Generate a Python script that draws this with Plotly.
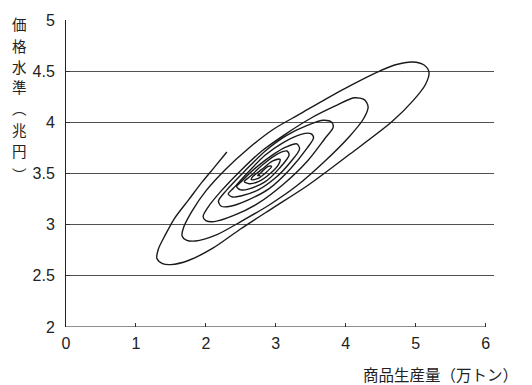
import plotly.graph_objects as go

# Trajectory of production (x, 10k tons) and price level (y, trillion yen)
prod = [
    2.30, 2.12, 1.95, 1.75, 1.55, 1.42, 1.32, 1.30, 1.38, 1.50,
    1.75, 2.10, 2.50, 2.95, 3.45, 4.06, 4.65, 4.96, 5.14, 5.19, 5.12, 4.96, 4.70, 4.45,
    4.10, 3.72, 3.34, 2.96, 2.60, 2.28, 2.00, 1.80, 1.68, 1.66, 1.72, 1.85,
    2.15, 2.50, 2.90, 3.30, 3.70, 4.05, 4.25, 4.32, 4.27, 4.12, 3.85, 3.50, 3.15, 2.80,
    2.50, 2.22, 2.03, 1.96, 2.00, 2.12,
    2.40, 2.75, 3.10, 3.45, 3.70, 3.82, 3.80, 3.68, 3.45, 3.15, 2.85, 2.55, 2.30, 2.18, 2.22, 2.35,
    2.60, 2.90, 3.20, 3.45, 3.54, 3.50, 3.35, 3.10, 2.85, 2.60, 2.40, 2.32, 2.38, 2.50,
    2.75, 3.00, 3.22, 3.34, 3.30, 3.15, 2.95, 2.72, 2.52, 2.44, 2.50, 2.62,
    2.85, 3.05, 3.19, 3.16, 3.02, 2.82, 2.63, 2.55, 2.62, 2.75,
    2.92, 3.04, 3.06, 2.95, 2.80, 2.67, 2.65, 2.74,
    2.86, 2.94, 2.89, 2.79, 2.74, 2.78,
]
price = [
    3.71, 3.56, 3.42, 3.24, 3.06, 2.90, 2.76, 2.67, 2.62, 2.61,
    2.65, 2.77, 2.96, 3.16, 3.38, 3.69, 4.00, 4.21, 4.37, 4.49, 4.56, 4.59, 4.56, 4.49,
    4.37, 4.23, 4.08, 3.93, 3.74, 3.54, 3.33, 3.13, 2.97, 2.89, 2.85, 2.84,
    2.90, 3.03, 3.19, 3.38, 3.62, 3.86, 4.03, 4.15, 4.22, 4.24, 4.16, 4.04, 3.89, 3.72,
    3.53, 3.33, 3.17, 3.08, 3.04, 3.03,
    3.09, 3.21, 3.39, 3.62, 3.84, 3.95, 4.00, 4.02, 3.97, 3.87, 3.72, 3.52, 3.34, 3.23, 3.18, 3.18,
    3.24, 3.35, 3.54, 3.75, 3.85, 3.89, 3.88, 3.80, 3.68, 3.51, 3.36, 3.30, 3.27, 3.28,
    3.34, 3.46, 3.62, 3.74, 3.79, 3.76, 3.68, 3.56, 3.43, 3.37, 3.34, 3.35,
    3.42, 3.55, 3.68, 3.72, 3.69, 3.59, 3.47, 3.42, 3.40, 3.42,
    3.50, 3.59, 3.64, 3.62, 3.54, 3.47, 3.44, 3.45,
    3.51, 3.57, 3.57, 3.51, 3.48, 3.48,
]

x_ticks = [0, 1, 2, 3, 4, 5, 6]
y_ticks = [2, 2.5, 3, 3.5, 4, 4.5, 5]
x_title = "商品生産量（万トン）"
# vertical y title: character and its row centre (px from the top)
y_title_chars = ["価", "格", "水", "準", "︵", "兆", "円", "︶"]
y_title_rows = [17, 39, 61, 81, 102, 125, 146, 171]

FONT = "Liberation Sans, Arial, Noto Sans CJK JP"
CJK = "Noto Sans CJK JP"

fig = go.Figure()
fig.add_trace(go.Scatter(
    x=prod, y=price, mode="lines",
    line=dict(color="#1a1a1a", width=1.4, shape="spline", smoothing=0.8),
    hoverinfo="skip", showlegend=False,
))

fig.update_layout(
    width=532, height=385,
    margin=dict(l=66, r=38, t=13, b=58),
    paper_bgcolor="white", plot_bgcolor="white",
    font=dict(family=FONT, size=16, color="#222"),
    showlegend=False,
)
fig.update_xaxes(
    range=[0, 6.12], tickvals=x_ticks, ticktext=[str(v) for v in x_ticks],
    showgrid=False, zeroline=False, showline=False,
    ticks="inside", ticklen=4, tickcolor="#333", tickwidth=1,
    ticklabelstandoff=5,
)
fig.update_yaxes(
    range=[2, 5], tickvals=y_ticks, ticktext=[f"{v:g}" for v in y_ticks],
    showgrid=True, gridcolor="#505050", gridwidth=1,
    zeroline=False, showline=True, linecolor="#222", linewidth=1,
    ticks="inside", ticklen=4, tickcolor="#333",
    ticklabelstandoff=7,
)

# x-axis baseline ends at the last tick
fig.add_shape(type="line", xref="x", yref="y", x0=0, x1=6, y0=2, y1=2,
              line=dict(color="#222", width=1.2))

fig.add_annotation(text=x_title, xref="paper", yref="paper",
                   x=1.061, y=-0.152, xanchor="right", yanchor="middle",
                   showarrow=False, font=dict(size=15.5, color="#222", family=CJK))

plot_h = 385 - 13 - 58
for ch, py in zip(y_title_chars, y_title_rows):
    fig.add_annotation(text=ch, xref="paper", yref="paper",
                       x=(19 - 66) / 428, y=(385 - 58 - py) / plot_h,
                       xanchor="center", yanchor="middle", showarrow=False,
                       font=dict(size=14.5, color="#222", family=CJK))

fig.write_html("out.html")
